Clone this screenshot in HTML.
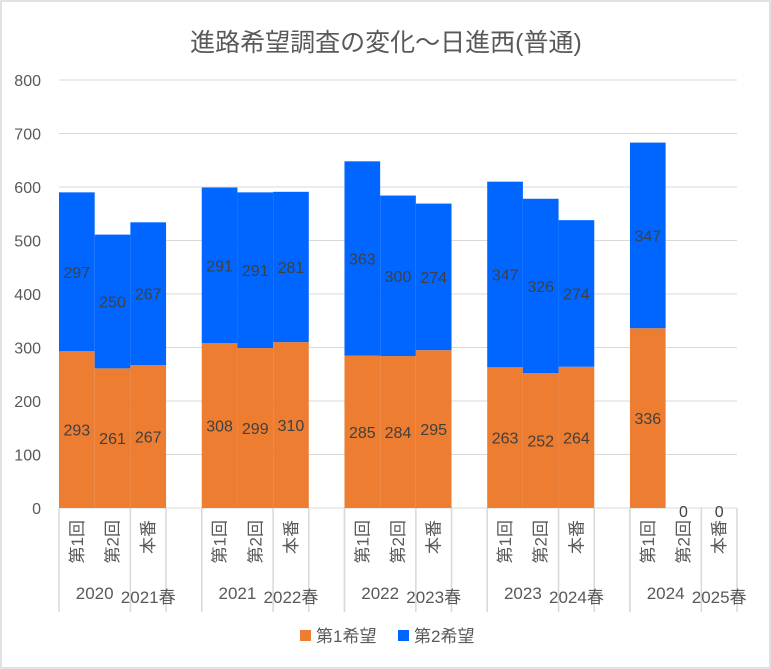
<!DOCTYPE html>
<html><head><meta charset="utf-8"><style>
body{margin:0;background:#fff;}
svg{display:block;font-family:"Liberation Sans","Noto Sans CJK JP",sans-serif;}
</style></head><body>
<svg id="c" width="771" height="669">
<rect x="1" y="1" width="769" height="667" fill="#fff" stroke="#d9d9d9" stroke-width="1.5"/>
<text x="386" y="51" text-anchor="middle" font-size="25" fill="#595959">進路希望調査の変化～日進西(普通)</text>
<g id="grid"></g><g id="bars"></g><g id="xaxis"></g>
<g>
<rect x="300" y="630" width="11" height="11" fill="#ed7d31"/>
<text x="316" y="642" font-size="17" fill="#595959">第1希望</text>
<rect x="398" y="630" width="11" height="11" fill="#0066ff"/>
<text x="414" y="642" font-size="17" fill="#595959">第2希望</text>
</g>
</svg>
<script>
const subLabels=["第1回","第2回","本番","","第1回","第2回","本番","","第1回","第2回","本番","","第1回","第2回","本番","","第1回","第2回","本番"];
const first=[293,261,267,null,308,299,310,null,285,284,295,null,263,252,264,null,336,0,0];
const second=[297,250,267,null,291,291,281,null,363,300,274,null,347,326,274,null,347,0,0];
const groupLabels=["2020","2021","2022","2023","2024"];
const springLabels=["2021春","2022春","2023春","2024春","2025春"];
const yTicks=[0,100,200,300,400,500,600,700,800];
const NS="http://www.w3.org/2000/svg";
const X0=59,X1=737,Y0=508,Y1=80,n=subLabels.length,sw=(X1-X0)/n;
const y=v=>Y0-(v/800)*(Y0-Y1);
const x=i=>X0+i*sw;
function mk(p,t,a,txt){const e=document.createElementNS(NS,t);for(const k in a)e.setAttribute(k,a[k]);if(txt!==undefined)e.textContent=txt;p.appendChild(e);return e;}
const G=document.getElementById('grid'),B=document.getElementById('bars'),XA=document.getElementById('xaxis');
yTicks.forEach(t=>{
 const l=mk(G,'line',{x1:X0,x2:X1,y1:y(t),y2:y(t),stroke:'#d9d9d9','stroke-width':1});
 
 
 const tx=mk(G,'text',{x:41,y:y(t)+6,'text-anchor':'end','font-size':16,fill:'#595959'},String(t));
 
 
});
for(let i=0;i<n;i++){
 if(first[i]===null)continue;
 const cx=x(i)+sw/2;
 const r1=mk(B,'rect',{x:x(i),y:y(first[i]),width:sw,height:Y0-y(first[i]),fill:'#ed7d31'});
 
 
 const r2=mk(B,'rect',{x:x(i),y:y(first[i]+second[i]),width:sw,height:y(first[i])-y(first[i]+second[i]),fill:'#0066ff'});
 
 
 if(first[i]+second[i]===0){
  const z=mk(B,'text',{x:cx,y:Y0+9,'text-anchor':'middle','font-size':16,fill:'#404040'},'0');
  
  
 } else {
  const a=mk(B,'text',{x:cx,y:(Y0+y(first[i]))/2+6,'text-anchor':'middle','font-size':16,fill:'#404040'},String(first[i]));
  
  
  const b=mk(B,'text',{x:cx,y:(y(first[i])+y(first[i]+second[i]))/2+6,'text-anchor':'middle','font-size':16,fill:'#404040'},String(second[i]));
  
  
 }
}
for(let g=0;g<5;g++){
 const base=g*4;
 [base,base+2,base+3,base+4].forEach(k=>{
  if(k>n)return;
  const l=mk(XA,'line',{x1:x(k),x2:x(k),y1:Y0,y2:612,stroke:'#d9d9d9','stroke-width':1.5});
  
  
 });
 const ty=mk(XA,'text',{x:x(base+1),y:599,'text-anchor':'middle','font-size':17,fill:'#595959'},groupLabels[g]);
 
 
 const ts=mk(XA,'text',{x:x(base+2)+sw/2,y:603,'text-anchor':'middle','font-size':17,fill:'#595959'},springLabels[g]);
 
 
}
for(let i=0;i<n;i++){
 if(!subLabels[i])continue;
 const cx=x(i)+sw/2;
 const t=mk(XA,'text',{x:cx+6,y:520,'font-size':17,fill:'#595959',transform:'rotate(-90 '+(cx+6)+' 520)','text-anchor':'end'},subLabels[i]);
 
 
}
</script>
</body></html>
